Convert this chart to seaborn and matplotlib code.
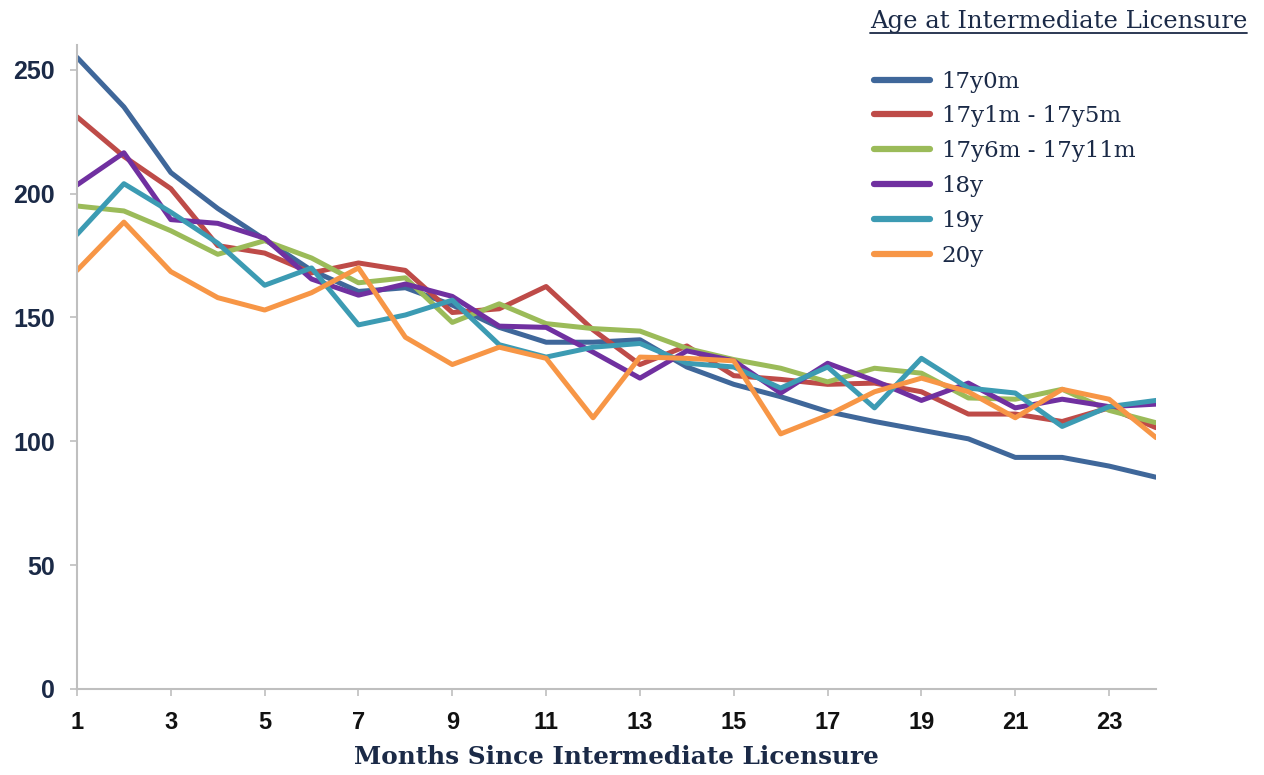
import pandas as pd
import matplotlib.pyplot as plt
import seaborn as sns
from matplotlib.lines import Line2D

# Values
months = list(range(1, 25))
age_17y0m = [255, 235, 208.5, 194, 181.5, 169, 160.5, 162, 155, 146, 140, 140,
             141, 130, 123, 118, 112, 108, 104.5, 101, 93.5, 93.5, 90, 85.5]
age_17y1m_5m = [231, 215, 202, 179, 176, 168, 172, 169, 152, 153.5, 162.5, 145,
                131, 138.5, 126.5, 125, 123, 123.5, 120, 111, 111, 108, 113.5, 105.5]
age_17y6m_11m = [195, 193, 185, 175.5, 181, 174, 164, 166, 148, 155.5, 147.5, 145.5,
                 144.5, 137.5, 133, 129.5, 124, 129.5, 127.5, 117.5, 117, 121, 112.5, 107.5]
age_18y = [203.5, 216.5, 189.5, 188, 182, 165.5, 159, 163.5, 158.5, 146.5, 146, 136,
           125.5, 136.5, 132.5, 119.5, 131.5, 124.5, 116.5, 123.5, 113.5, 117, 114, 115]
age_19y = [183.5, 204, 192.5, 180, 163, 170, 147, 151, 157, 139, 134, 138,
           139.5, 131.5, 130, 121.5, 130, 113.5, 133.5, 121.5, 119.5, 106, 114, 116.5]
age_20y = [169, 188.5, 168.5, 158, 153, 160, 170, 142, 131, 138, 133.5, 109.5,
           134, 133.5, 132.5, 103, 110.5, 120, 125.5, 120, 109.5, 121, 117, 101.5]

groups = ['17y0m', '17y1m - 17y5m', '17y6m - 17y11m', '18y', '19y', '20y']
series = [age_17y0m, age_17y1m_5m, age_17y6m_11m, age_18y, age_19y, age_20y]
colors = ['#3F679A', '#BE4B48', '#9BBB59', '#7030A0', '#3C9BB3', '#F79646']

df = pd.concat([pd.DataFrame({'month': months, 'value': vals, 'group': g})
                for g, vals in zip(groups, series)])

sns.set_style('white')
plt.rcParams['font.family'] = ['Liberation Sans', 'DejaVu Sans']

navy = '#1B2A47'
grey = '#BFBFBF'
serif = 'DejaVu Serif'

fig = plt.figure(figsize=(12.64, 7.75), dpi=100)
ax = fig.add_axes([77 / 1264, 1 - 689 / 775, (1156 - 77) / 1264, (689 - 45) / 775])

sns.lineplot(data=df, x='month', y='value', hue='group', hue_order=groups,
             palette=dict(zip(groups, colors)), linewidth=3.6, ax=ax, legend=False)

ax.set_xlim(1, 24)
ax.set_ylim(0, 260)
ax.set_xticks(range(1, 24, 2))
ax.set_yticks([0, 50, 100, 150, 200, 250])
sns.despine(ax=ax)
for side in ['left', 'bottom']:
    ax.spines[side].set_color(grey)
    ax.spines[side].set_linewidth(1.5)
ax.tick_params(axis='both', direction='out', color=grey, width=1.2, length=5,
               left=True, bottom=True)
ax.tick_params(axis='y', labelsize=18, labelcolor=navy, pad=11)
ax.tick_params(axis='x', labelsize=17, labelcolor='#111111', pad=11)
for lbl in ax.get_xticklabels() + ax.get_yticklabels():
    lbl.set_fontweight('bold')

ax.set_ylabel('')
ax.set_xlabel('Months Since Intermediate Licensure', family=serif,
              fontsize=17.8, fontweight='bold', color=navy, labelpad=8)

# legend with an underlined title
title = fig.text(870 / 1264, 1 - 28 / 775, 'Age at Intermediate Licensure',
                 family=serif, fontsize=17.5, color=navy,
                 ha='left', va='baseline')
fig.canvas.draw()
bb = title.get_window_extent().transformed(fig.transFigure.inverted())
fig.add_artist(Line2D([bb.x0, bb.x1], [1 - 33 / 775] * 2, color=navy,
                      linewidth=1.3, transform=fig.transFigure))

handles = [Line2D([], [], color=c, linewidth=4.5, solid_capstyle='round') for c in colors]
leg = ax.legend(handles, groups, loc='upper left', frameon=False,
                bbox_to_anchor=(853 / 1264, 1 - 50 / 775), bbox_transform=fig.transFigure,
                prop={'family': serif, 'size': 16.5},
                handlelength=2.45, handletextpad=0.52, labelspacing=0.56)
for t in leg.get_texts():
    t.set_color(navy)

fig.savefig('out.png', dpi=100)
